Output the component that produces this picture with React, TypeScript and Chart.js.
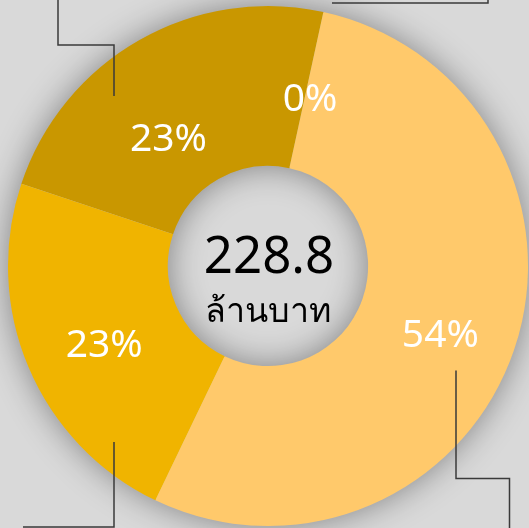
import React, { useEffect, useRef } from "react";
import { Chart, registerables } from "chart.js";

Chart.register(...registerables);

const categories = ["ส่วนที่ 4", "ส่วนที่ 1", "ส่วนที่ 2", "ส่วนที่ 3"];
const values = [0, 122.9, 52.6, 53.3];
const colors = ["#C99700", "#FFC96B", "#F0B400", "#C99700"];
const totalLabel = "228.8";
const unitLabel = "ล้านบาท";

const BG = "#D9D9D9";
const FONT = "'Noto Sans', 'Open Sans', sans-serif";
// label placement nudges relative to each arc's middle: [angle shift deg, radius px]
const LABEL_NUDGE: [number, number][] = [
  [1.7, 174],
  [2.3, 185],
  [-2.2, 181],
  [-8, 163],
];
// leader lines, relative to chart centre
const LEADERS: [number, number][][] = [
  [[-154, -170], [-154, -221], [-210, -221], [-210, -275]],
  [[64, -263], [220, -263], [220, -275]],
  [[-154, 176], [-154, 261], [-245, 261]],
  [[188, 104.5], [188, 212.5], [241.5, 212.5], [241.5, 275]],
];

const shadowPlugin = {
  id: "ringShadow",
  beforeDatasetsDraw(chart: any) {
    const meta = chart.getDatasetMeta(0);
    const arc = meta.data[0];
    if (!arc) return;
    const { x, y, outerRadius, innerRadius } = arc.getProps(["x", "y", "outerRadius", "innerRadius"], true);
    const ctx = chart.ctx;
    ctx.save();
    ctx.beginPath();
    ctx.arc(x, y, outerRadius - 1, 0, Math.PI * 2);
    ctx.arc(x, y, innerRadius + 1, 0, Math.PI * 2, true);
    ctx.closePath();
    ctx.shadowColor = "rgba(0,0,0,0.42)";
    ctx.shadowBlur = 34;
    ctx.fillStyle = BG;
    ctx.fill("evenodd");
    ctx.restore();
  },
};

const labelPlugin = {
  id: "pctLabels",
  afterDatasetsDraw(chart: any) {
    const meta = chart.getDatasetMeta(0);
    const ctx = chart.ctx;
    const data = chart.data.datasets[0].data as number[];
    const total = data.reduce((a, b) => a + b, 0);
    ctx.save();
    ctx.fillStyle = "#FFFFFF";
    ctx.font = `39px ${FONT}`;
    ctx.textAlign = "center";
    ctx.textBaseline = "alphabetic";
    meta.data.forEach((el: any, i: number) => {
      const { x, y, startAngle, endAngle } = el.getProps(["x", "y", "startAngle", "endAngle"], true);
      const [dA, r] = LABEL_NUDGE[i];
      const mid = (startAngle + endAngle) / 2 + (dA * Math.PI) / 180;
      const lx = x + Math.cos(mid) * r;
      const ly = y + Math.sin(mid) * r;
      const pct = Math.round((data[i] / total) * 100);
      ctx.fillText(`${pct}%`, lx, ly + 39 * 0.357);
    });
    // centre text
    const a0 = meta.data[0];
    const cx = a0.x;
    const cy = a0.y;
    ctx.fillStyle = "#000000";
    ctx.font = `51px ${FONT}`;
    ctx.fillText(totalLabel, cx + 1, cy + 7);
    ctx.font = `34px ${FONT}`;
    ctx.fillText(unitLabel, cx, cy + 56);
    // leader lines
    ctx.strokeStyle = "#3A3A3A";
    ctx.lineWidth = 1.5;
    LEADERS.forEach((pts) => {
      ctx.beginPath();
      pts.forEach(([dx, dy], k) => {
        if (k === 0) ctx.moveTo(cx + dx, cy + dy);
        else ctx.lineTo(cx + dx, cy + dy);
      });
      ctx.stroke();
    });
    ctx.restore();
  },
};

export default function App() {
  const ref = useRef<HTMLCanvasElement | null>(null);
  useEffect(() => {
    if (!ref.current) return;
    const chart = new Chart(ref.current, {
      type: "doughnut",
      data: {
        labels: categories,
        datasets: [
          {
            data: values,
            backgroundColor: colors,
            borderWidth: 0,
            hoverOffset: 0,
          },
        ],
      },
      options: {
        responsive: false,
        animation: false,
        rotation: 12.3,
        cutout: "38.5%",
        layout: { padding: { left: 8, right: 1, top: 6, bottom: 2 } },
        plugins: {
          legend: { display: false },
          tooltip: { enabled: false },
        },
      },
      plugins: [shadowPlugin, labelPlugin],
    });
    return () => chart.destroy();
  }, []);
  return (
    <div style={{ position: "fixed", inset: 0, background: BG }}>
      <canvas ref={ref} width={529} height={528} style={{ display: "block" }} />
    </div>
  );
}
